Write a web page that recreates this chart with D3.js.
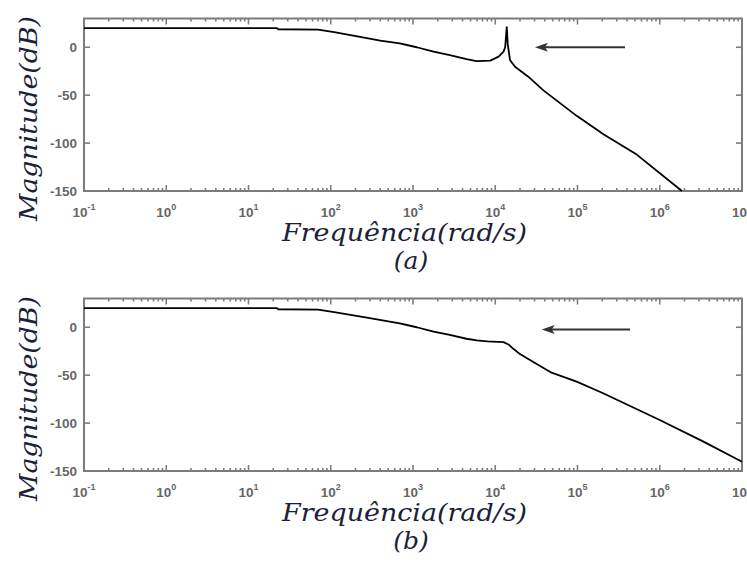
<!DOCTYPE html>
<html>
<head>
<meta charset="utf-8">
<script src="https://cdn.jsdelivr.net/npm/d3@7"></script>
<style>
  html, body { margin: 0; padding: 0; background: #fff; }
  svg { display: block; }
</style>
</head>
<body>
<svg id="chart" width="747" height="561"></svg>
<script>
// Frequency axis: decades shown as 10^k
const decadeExponents = [-1, 0, 1, 2, 3, 4, 5, 6, 7];
const magnitudeTicks = [0, -50, -100, -150];

// (a) magnitude response with resonant peak (rad/s, dB)
const freqA = [0.1, 22, 23, 70, 110, 275, 400, 690, 1110, 1780, 2800, 4470, 5900, 8700, 11000, 12600, 13200, 13800, 14200, 15100, 17400, 25200, 38500, 97700, 209000, 525000, 1860000];
const magA  = [20,  20, 18.8, 18.3, 15.8, 9.6, 7,  4,   0,    -4.6, -8.1, -12.3, -14.4, -14, -9.8,  -4.6,  0,     21,    3,     -13.3, -20.3, -30.7, -45,   -71.6, -91,   -112,   -150];

// (b) damped magnitude response (rad/s, dB)
const freqB = [0.1, 22, 23, 70, 110, 275, 690, 1110, 1780, 2800, 4470, 5960, 8000, 12600, 14500, 16600, 20000, 24300, 48400, 97700, 205000, 1000000, 3400000, 10000000];
const magB  = [20,  20, 18.8, 18.3, 15.8, 10, 4,  0,    -4.5, -8,   -12,  -13.8, -14.8, -15.5, -18,  -22.5, -28,   -32.4, -47.4, -56.8, -68.9,  -96.8,   -119.4,  -140.3];

// Arrows: [start freq, tip freq, level dB]
const arrowA = [378000, 30400, 0];
const arrowB = [436000, 36700, -2.4];

const panels = [
  { freq: freqA, mag: magA, arrow: arrowA, tag: "(a)", top: 18.5 },
  { freq: freqB, mag: magB, arrow: arrowB, tag: "(b)", top: 298.5 }
];

const svg = d3.select("#chart");
const left = 84, right = 742, plotH = 172.5;
const axisGray = "#7c7c7c";
const labelGray = "#666";
const tickFont = "Liberation Sans, Arial, sans-serif";

panels.forEach(p => {
  const g = svg.append("g");
  const x = d3.scaleLog().domain([1e-1, 1e7]).range([left, right]);
  const y = d3.scaleLinear().domain([-150, 30]).range([p.top + plotH, p.top]);

  // minor and major ticks on top and bottom edges
  const ticksX = [];
  for (let e = -1; e < 7; e++) {
    for (let m = 1; m <= 9; m++) ticksX.push({ v: m * Math.pow(10, e), major: m === 1 });
  }
  ticksX.push({ v: 1e7, major: true });
  ticksX.forEach(t => {
    const len = t.major ? 6 : 3;
    const xp = x(t.v);
    g.append("line").attr("x1", xp).attr("x2", xp)
      .attr("y1", y.range()[0]).attr("y2", y.range()[0] - len)
      .attr("stroke", axisGray).attr("stroke-width", 1.6);
    g.append("line").attr("x1", xp).attr("x2", xp)
      .attr("y1", y.range()[1]).attr("y2", y.range()[1] + len)
      .attr("stroke", axisGray).attr("stroke-width", 1.6);
  });

  // y ticks, inward on both sides, labels on the left
  magnitudeTicks.forEach(v => {
    g.append("line").attr("x1", left).attr("x2", left + 6)
      .attr("y1", y(v)).attr("y2", y(v))
      .attr("stroke", axisGray).attr("stroke-width", 1.6);
    g.append("line").attr("x1", right).attr("x2", right - 6)
      .attr("y1", y(v)).attr("y2", y(v))
      .attr("stroke", axisGray).attr("stroke-width", 1.6);
    g.append("text")
      .attr("x", left - 7).attr("y", y(v) + 5)
      .attr("text-anchor", "end")
      .attr("font-family", tickFont)
      .attr("font-weight", "bold").attr("font-size", 13.5)
      .attr("fill", labelGray)
      .text(v);
  });

  // frame
  g.append("rect")
    .attr("x", left).attr("y", p.top)
    .attr("width", right - left).attr("height", plotH)
    .attr("fill", "none").attr("stroke", axisGray).attr("stroke-width", 2);

  // decade labels
  decadeExponents.forEach(e => {
    const t = g.append("text")
      .attr("x", x(Math.pow(10, e))).attr("y", y.range()[0] + 25.5)
      .attr("text-anchor", "middle")
      .attr("font-family", tickFont)
      .attr("font-weight", "bold").attr("font-size", 13.5)
      .attr("fill", labelGray);
    t.append("tspan").text("10");
    t.append("tspan").attr("dy", -7).attr("font-size", 9).text(e);
  });

  // magnitude curve
  const line = d3.line()
    .x((d, j) => x(p.freq[j]))
    .y((d, j) => y(p.mag[j]));
  g.append("path")
    .datum(p.mag)
    .attr("d", line)
    .attr("fill", "none")
    .attr("stroke", "#000")
    .attr("stroke-width", 1.8)
    .attr("stroke-linejoin", "round");

  // arrow pointing toward lower frequency
  const ax0 = x(p.arrow[0]), ax1 = x(p.arrow[1]), ay = y(p.arrow[2]);
  g.append("line")
    .attr("x1", ax0).attr("x2", ax1 + 6)
    .attr("y1", ay).attr("y2", ay)
    .attr("stroke", "#333").attr("stroke-width", 2);
  g.append("path")
    .attr("d", `M${ax1},${ay} L${ax1 + 13},${ay - 4.5} L${ax1 + 10},${ay} L${ax1 + 13},${ay + 4.5} Z`)
    .attr("fill", "#333");

  // axis titles
  const titleFont = "DejaVu Serif, Liberation Serif, serif";
  const titleFill = "#1a2238";
  g.append("text")
    .attr("transform", `translate(37,${p.top + 100}) rotate(-90)`)
    .attr("text-anchor", "middle")
    .attr("font-family", titleFont).attr("font-style", "italic")
    .attr("font-size", 25).attr("fill", titleFill)
    .attr("textLength", 205).attr("lengthAdjust", "spacingAndGlyphs")
    .text("Magnitude(dB)");
  g.append("text")
    .attr("x", 282).attr("y", y.range()[0] + 50)
    .attr("font-family", titleFont).attr("font-style", "italic")
    .attr("font-size", 25).attr("fill", titleFill)
    .attr("textLength", 245).attr("lengthAdjust", "spacingAndGlyphs")
    .text("Frequência(rad/s)");
  g.append("text")
    .attr("x", 411).attr("y", y.range()[0] + 78)
    .attr("text-anchor", "middle")
    .attr("font-family", titleFont).attr("font-style", "italic")
    .attr("font-size", 25).attr("fill", titleFill)
    .text(p.tag);
});
</script>
</body>
</html>
